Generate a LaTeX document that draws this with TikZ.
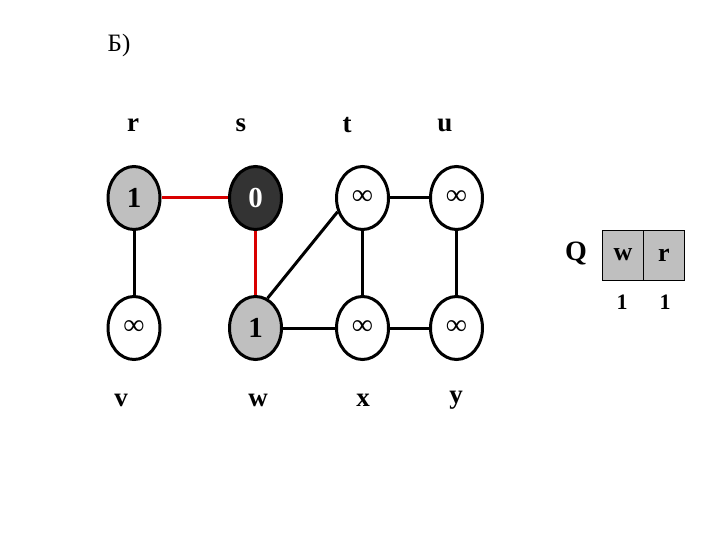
\documentclass[tikz,border=0pt]{standalone}
\usepackage{fontspec}
\setmainfont{Liberation Serif}
\usetikzlibrary{shapes.geometric}
\begin{document}
\begin{tikzpicture}[x=1pt,y=-1pt,
  vert/.style={ellipse,draw=black,line width=3pt,minimum width=52pt,minimum height=63pt,inner sep=0pt,fill=white,font=\fontsize{29}{29}\selectfont\bfseries},
  grayv/.style={vert,fill=gray!50},
  darkv/.style={vert,fill=black!80,text=white},
  lbl/.style={font=\fontsize{27}{27}\selectfont\bfseries,inner sep=0pt},
  edge/.style={line width=3pt,draw=black},
  redge/.style={line width=3pt,draw=red!85!black},
  cell/.style={draw=black,line width=0.8pt,fill=gray!50,minimum width=41pt,minimum height=50pt,inner sep=0pt,font=\fontsize{26}{26}\selectfont\bfseries}]
\useasboundingbox (0,0) rectangle (720,540);
\node[font=\fontsize{25}{25}\selectfont,inner sep=0pt] (title) at (119,45) {Б)};
\node[lbl] (lr) at (133,125) {r};
\node[lbl] (ls) at (241,125) {s};
\node[lbl] (lt) at (347,125) {t};
\node[lbl] (lu) at (445,125) {u};
\node[lbl] (lv) at (121,400) {v};
\node[lbl] (lw) at (258,400) {w};
\node[lbl] (lx) at (363,400) {x};
\node[lbl] (ly) at (456,400) {y};
\node[grayv] (r) at (134,198) {1};
\node[darkv] (s) at (255.5,198) {0};
\node[vert] (t) at (362.5,198) {∞};
\node[vert] (u) at (456.5,198) {∞};
\node[vert] (v) at (134,328) {∞};
\node[grayv] (w) at (255.5,328) {1};
\node[vert] (x) at (362.5,328) {∞};
\node[vert] (y) at (456.5,328) {∞};
\draw[redge] (r) -- (s);
\draw[redge] (s) -- (w);
\draw[edge] (r) -- (v);
\draw[edge] (w.68) -- (t.209);
\draw[edge] (t) -- (u);
\draw[edge] (t) -- (x);
\draw[edge] (u) -- (y);
\draw[edge] (w) -- (x);
\draw[edge] (x) -- (y);
\node[font=\fontsize{28}{28}\selectfont\bfseries,inner sep=0pt] (q) at (576,253) {Q};
\node[cell] (c1) at (623,255) {w};
\node[cell] (c2) at (664,255) {r};
\node[font=\fontsize{22}{22}\selectfont\bfseries,inner sep=0pt] (d1) at (622,302) {1};
\node[font=\fontsize{22}{22}\selectfont\bfseries,inner sep=0pt] (d2) at (665,302) {1};
\end{tikzpicture}
\end{document}
